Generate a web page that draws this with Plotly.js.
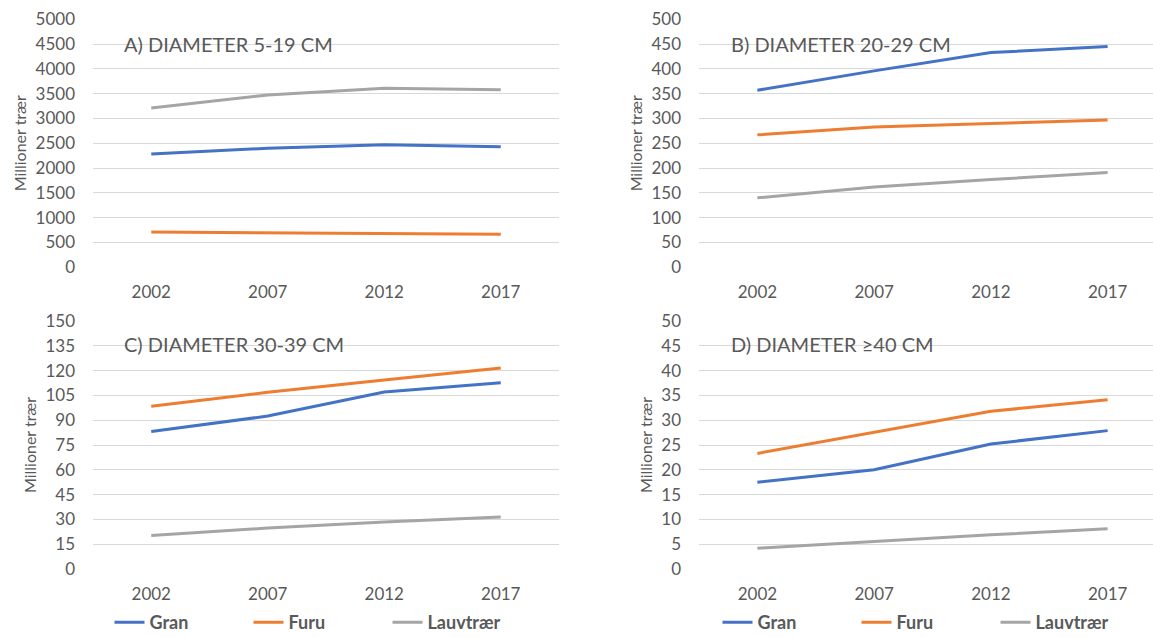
<!DOCTYPE html>
<html>
<head>
<meta charset="utf-8">
<script src="https://cdn.plot.ly/plotly-3.0.1.min.js"></script>
<style>html,body{margin:0;padding:0;background:#fff;overflow:hidden;}#wrap{width:1153px;height:637px;overflow:hidden;}</style>
</head>
<body>
<div id="wrap"><div id="chart"></div></div>
<script>
const years = ["2002", "2007", "2012", "2017"];
const seriesNames = ["Gran", "Furu", "Lauvtrær"];
const panelTitles = ["A) DIAMETER 5-19 CM", "B) DIAMETER 20-29 CM", "C) DIAMETER 30-39 CM", "D) DIAMETER ≥40 CM"];

const granA = [2285, 2400, 2472, 2432];
const furuA = [712, 692, 677, 665];
const lauvA = [3212, 3474, 3609, 3581];

const granB = [357, 396, 433, 445];
const furuB = [267, 283, 290, 297];
const lauvB = [140, 162, 177, 191];

const granC = [83.1, 92.5, 107.1, 112.7];
const furuC = [98.4, 106.9, 114.3, 121.6];
const lauvC = [20.2, 24.8, 28.4, 31.5];

const granD = [17.5, 20.0, 25.2, 27.9];
const furuD = [23.3, 27.6, 31.8, 34.1];
const lauvD = [4.2, 5.6, 6.9, 8.1];

const yTicksA = [0, 500, 1000, 1500, 2000, 2500, 3000, 3500, 4000, 4500, 5000];
const yTicksB = [0, 50, 100, 150, 200, 250, 300, 350, 400, 450, 500];
const yTicksC = [0, 15, 30, 45, 60, 75, 90, 105, 120, 135, 150];
const yTicksD = [0, 5, 10, 15, 20, 25, 30, 35, 40, 45, 50];

const colors = ["#4472C4", "#ED7D31", "#A5A5A5"];
const W = 1153, H = 641;
const textColor = "#595959";
const fontFam = "Lato, 'Open Sans', sans-serif";

const panels = [
  {data: [granA, furuA, lauvA], ticks: yTicksA, xa: "x", ya: "y", legend: "legend", show: true},
  {data: [granB, furuB, lauvB], ticks: yTicksB, xa: "x2", ya: "y2", legend: "legend2", show: true},
  {data: [granC, furuC, lauvC], ticks: yTicksC, xa: "x3", ya: "y3", legend: "legend", show: false},
  {data: [granD, furuD, lauvD], ticks: yTicksD, xa: "x4", ya: "y4", legend: "legend2", show: false}
];

const traces = [];
panels.forEach(p => {
  p.data.forEach((vals, i) => {
    traces.push({
      type: "scatter", mode: "lines",
      x: years, y: vals, name: seriesNames[i],
      xaxis: p.xa, yaxis: p.ya, legend: p.legend,
      showlegend: p.show,
      line: {color: colors[i], width: 3}
    });
  });
});

function px(a){ return a / W; }
function py(b){ return (H - b) / H; }

function xaxis(domain, rng){
  return {
    domain: domain, type: "category", range: rng,
    showgrid: false, zeroline: false, showline: false, ticks: "",
    tickfont: {family: fontFam, size: 17, color: textColor},
    ticklabelstandoff: 13, fixedrange: true
  };
}
function yaxis(domain, ticks){
  return {
    domain: domain, range: [ticks[0], ticks[ticks.length-1]],
    tickvals: ticks, ticktext: ticks.map(String),
    showgrid: true, gridcolor: "#D9D9D9", gridwidth: 1,
    zeroline: false, showline: false, ticks: "",
    tickfont: {family: fontFam, size: 17, color: textColor},
    ticklabelstandoff: 17,
    title: {text: "Millioner trær", font: {family: fontFam, size: 16, color: textColor}, standoff: 4},
    fixedrange: true
  };
}

const topY = [py(267.3), py(19.3)];
const botY = [py(569), py(321)];
const leftX = [px(93), px(559)];
const rightX = [px(699), 1];
const rightRange = [-0.5, 3.5 - (1166 - 1153) / 116.7];

const annPos = [[122, 44], [729, 44], [122, 344], [729, 344]];
const annotations = panelTitles.map((t, i) => ({
  text: t, xref: "paper", yref: "paper",
  x: px(annPos[i][0]), y: py(annPos[i][1]),
  xanchor: "left", yanchor: "middle", showarrow: false,
  font: {family: fontFam, size: 20, color: textColor}
}));

const legendCommon = {
  orientation: "h", xanchor: "center", yanchor: "bottom",
  y: 0, font: {family: fontFam, size: 18, color: textColor, weight: "bold"},
  bgcolor: "rgba(0,0,0,0)", entrywidth: 94, entrywidthmode: "pixels",
  itemwidth: 30, tracegroupgap: 0
};

const layout = {
  width: W, height: H,
  margin: {l: 0, r: 0, t: 0, b: 0},
  paper_bgcolor: "#fff", plot_bgcolor: "#fff",
  showlegend: true,
  xaxis: Object.assign(xaxis(leftX, [-0.5, 3.5]), {anchor: "y"}),
  yaxis: Object.assign(yaxis(topY, yTicksA), {anchor: "x"}),
  xaxis2: Object.assign(xaxis(rightX, rightRange), {anchor: "y2"}),
  yaxis2: Object.assign(yaxis(topY, yTicksB), {anchor: "x2"}),
  xaxis3: Object.assign(xaxis(leftX, [-0.5, 3.5]), {anchor: "y3"}),
  yaxis3: Object.assign(yaxis(botY, yTicksC), {anchor: "x3"}),
  xaxis4: Object.assign(xaxis(rightX, rightRange), {anchor: "y4"}),
  yaxis4: Object.assign(yaxis(botY, yTicksD), {anchor: "x4"}),
  legend: Object.assign({}, legendCommon, {x: px(318)}),
  legend2: Object.assign({}, legendCommon, {x: px(926)}),
  annotations: annotations
};

Plotly.newPlot("chart", traces, layout, {staticPlot: true, displayModeBar: false});
</script>
</body>
</html>
